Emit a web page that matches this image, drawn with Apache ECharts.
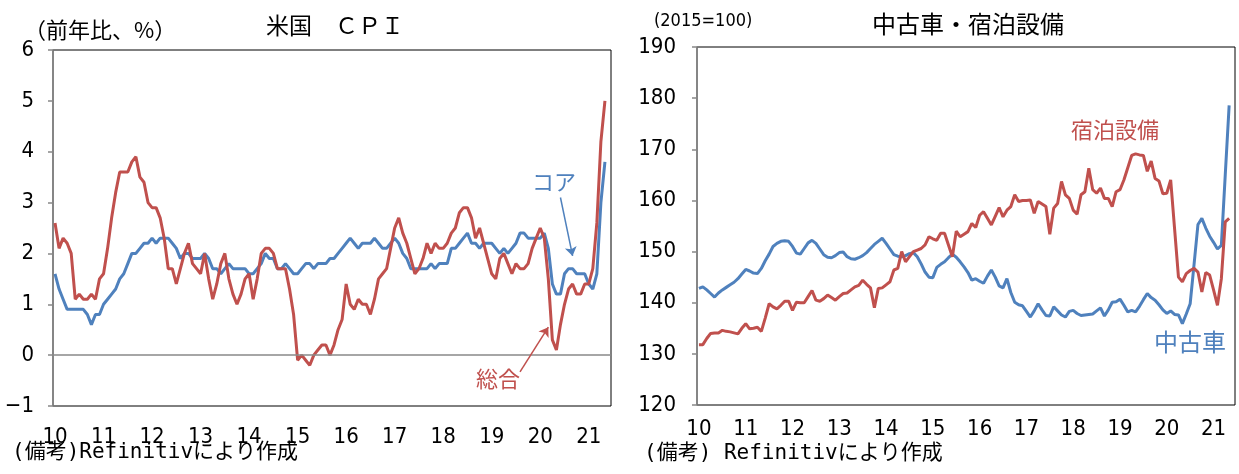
<!DOCTYPE html>
<html>
<head>
<meta charset="utf-8">
<script src="https://cdn.jsdelivr.net/npm/echarts@6/dist/echarts.min.js"></script>
<style>
  html, body { margin: 0; padding: 0; background: #fff; }
  #chart { width: 1239px; height: 474px; }
</style>
</head>
<body>
<div id="chart"></div>
<script>
// 月次カテゴリ（2010年1月〜2021年6月、最終月は空き）
const months = [];
for (let y = 2010; y <= 2021; y++) {
    for (let m = 1; m <= 12; m++) {
        if (y === 2021 && m > 6) break;
        months.push(y + '-' + String(m).padStart(2, '0'));
    }
}

// 米国CPI 総合（前年比、%）
const cpiAll = [
    2.6, 2.1, 2.3, 2.2, 2.0, 1.1, 1.2, 1.1, 1.1, 1.2, 1.1, 1.5,
    1.6, 2.1, 2.7, 3.2, 3.6, 3.6, 3.6, 3.8, 3.9, 3.5, 3.4, 3.0,
    2.9, 2.9, 2.7, 2.3, 1.7, 1.7, 1.4, 1.7, 2.0, 2.2, 1.8, 1.7,
    1.6, 2.0, 1.5, 1.1, 1.4, 1.8, 2.0, 1.5, 1.2, 1.0, 1.2, 1.5,
    1.6, 1.1, 1.5, 2.0, 2.1, 2.1, 2.0, 1.7, 1.7, 1.7, 1.3, 0.8,
    -0.1, 0.0, -0.1, -0.2, 0.0, 0.1, 0.2, 0.2, 0.0, 0.2, 0.5, 0.7,
    1.4, 1.0, 0.9, 1.1, 1.0, 1.0, 0.8, 1.1, 1.5, 1.6, 1.7, 2.1,
    2.5, 2.7, 2.4, 2.2, 1.9, 1.6, 1.7, 1.9, 2.2, 2.0, 2.2, 2.1,
    2.1, 2.2, 2.4, 2.5, 2.8, 2.9, 2.9, 2.7, 2.3, 2.5, 2.2, 1.9,
    1.6, 1.5, 1.9, 2.0, 1.8, 1.6, 1.8, 1.7, 1.7, 1.8, 2.1, 2.3,
    2.5, 2.3, 1.5, 0.3, 0.1, 0.6, 1.0, 1.3, 1.4, 1.2, 1.2, 1.4,
    1.4, 1.7, 2.6, 4.2, 5.0
];

// 米国CPI コア（前年比、%）
const cpiCore = [
    1.6, 1.3, 1.1, 0.9, 0.9, 0.9, 0.9, 0.9, 0.8, 0.6, 0.8, 0.8,
    1.0, 1.1, 1.2, 1.3, 1.5, 1.6, 1.8, 2.0, 2.0, 2.1, 2.2, 2.2,
    2.3, 2.2, 2.3, 2.3, 2.3, 2.2, 2.1, 1.9, 2.0, 2.0, 1.9, 1.9,
    1.9, 2.0, 1.9, 1.7, 1.7, 1.6, 1.7, 1.8, 1.7, 1.7, 1.7, 1.7,
    1.6, 1.6, 1.7, 1.8, 2.0, 1.9, 1.9, 1.7, 1.7, 1.8, 1.7, 1.6,
    1.6, 1.7, 1.8, 1.8, 1.7, 1.8, 1.8, 1.8, 1.9, 1.9, 2.0, 2.1,
    2.2, 2.3, 2.2, 2.1, 2.2, 2.2, 2.2, 2.3, 2.2, 2.1, 2.1, 2.2,
    2.3, 2.2, 2.0, 1.9, 1.7, 1.7, 1.7, 1.7, 1.7, 1.8, 1.7, 1.8,
    1.8, 1.8, 2.1, 2.1, 2.2, 2.3, 2.4, 2.2, 2.2, 2.1, 2.2, 2.2,
    2.2, 2.1, 2.0, 2.1, 2.0, 2.1, 2.2, 2.4, 2.4, 2.3, 2.3, 2.3,
    2.3, 2.4, 2.1, 1.4, 1.2, 1.2, 1.6, 1.7, 1.7, 1.6, 1.6, 1.6,
    1.4, 1.3, 1.6, 3.0, 3.8
];

// 中古車（2015=100）
const usedCars = [
    142.8, 143.1, 142.5, 141.8, 141.1, 141.9, 142.5, 143.0, 143.5, 144.0, 144.7, 145.6,
    146.5, 146.2, 145.8, 145.7, 146.7, 148.2, 149.5, 151.0, 151.6, 152.0, 152.1, 152.0,
    151.0, 149.7, 149.5, 150.6, 151.7, 152.2, 151.6, 150.5, 149.4, 148.9, 148.8, 149.2,
    149.8, 149.9, 149.0, 148.6, 148.5, 148.8, 149.2, 149.8, 150.6, 151.4, 152.0, 152.6,
    151.6, 150.5, 149.4, 149.1, 149.0, 149.2, 149.6, 149.8, 149.0, 147.6, 146.0, 145.0,
    144.9, 146.9, 147.5, 148.0, 148.8, 149.5, 148.9, 148.0, 147.0, 145.9, 144.4, 144.7,
    144.2, 143.8, 145.2, 146.4, 145.0, 143.3, 142.9, 144.7, 142.0, 140.1, 139.6, 139.4,
    138.3, 137.2, 138.4, 139.8, 138.6, 137.5, 137.4, 139.2, 138.4, 137.6, 137.2, 138.3,
    138.5, 137.9, 137.5, 137.6, 137.7, 137.8, 138.4, 139.0, 137.4, 138.6, 140.1, 140.2,
    140.7, 139.5, 138.2, 138.5, 138.2, 139.3, 140.6, 141.8, 141.0, 140.5, 139.6, 138.6,
    137.9, 138.4, 137.7, 137.6, 135.9, 137.8, 139.8, 147.5, 155.3, 156.5, 154.6, 153.0,
    151.8, 150.5, 151.2, 165.0, 178.6
];

// 宿泊設備（2015=100）
const lodging = [
    131.8, 131.8, 133.0, 134.0, 134.1, 134.1, 134.6, 134.4, 134.3, 134.1, 133.9, 135.0,
    135.9, 134.9, 135.0, 135.2, 134.4, 137.0, 139.8, 139.2, 138.8, 139.5, 140.3, 140.3,
    138.5, 140.1, 140.0, 140.0, 141.2, 142.4, 140.5, 140.3, 140.8, 141.5, 141.0, 140.5,
    141.2, 141.8, 141.9, 142.5, 143.1, 143.4, 144.4, 143.6, 142.9, 139.0, 142.8, 142.9,
    143.5, 144.1, 146.4, 146.7, 150.0, 148.0, 149.0, 150.0, 150.3, 150.6, 151.3, 152.9,
    152.5, 152.2, 153.6, 153.6, 151.3, 149.0, 154.0, 152.9, 153.4, 153.9, 155.5, 154.7,
    157.1, 157.8, 156.5, 155.2, 156.9, 158.6, 156.8, 158.1, 158.8, 161.1, 159.8, 160.0,
    160.0, 160.1, 157.5, 159.8, 159.3, 158.8, 153.4, 158.5, 159.4, 163.7, 161.1, 160.4,
    158.1, 157.3, 161.1, 161.7, 166.3, 162.1, 161.4, 162.4, 160.4, 160.4, 158.8, 161.7,
    162.1, 164.0, 166.4, 168.8, 169.1, 168.9, 168.8, 165.7, 167.7, 164.3, 163.8, 161.3,
    161.4, 164.0, 154.5, 145.0, 144.1, 145.7, 146.3, 146.7, 146.0, 142.1, 145.9, 145.4,
    142.5, 139.5, 144.7, 155.8, 156.5
];

// 軸目盛
const leftTicks = { min: -1, max: 6, interval: 1 };
const rightTicks = { min: 120, max: 190, interval: 10 };

const RED = '#C0504D';
const BLUE = '#4F81BD';
const NUM_FONT = "'Liberation Sans Narrow', 'DejaVu Sans Condensed', 'Liberation Sans', sans-serif";
const JP_FONT = "'Noto Sans CJK JP', sans-serif";
// 備考用：英字は等幅、和文は自動でCJKフォントへ
const NOTE_FONT = "'DejaVu Sans Mono', 'Noto Sans CJK JP', monospace";

const chart = echarts.init(document.getElementById('chart'));

function makeXAxis(gridIndex, margin) {
    return {
        type: 'category',
        gridIndex: gridIndex,
        data: months,
        boundaryGap: true,
        axisLine: { show: false },
        axisTick: { show: false },
        splitLine: { show: false },
        axisLabel: {
            interval: (idx) => idx % 12 === 0,
            formatter: (v) => v.slice(2, 4),
            fontFamily: NUM_FONT,
            fontSize: 22,
            color: '#000',
            margin: margin
        }
    };
}

function makeYAxis(gridIndex, ticks, margin) {
    return {
        type: 'value',
        gridIndex: gridIndex,
        min: ticks.min,
        max: ticks.max,
        interval: ticks.interval,
        splitLine: { show: false },
        axisLine: { show: true, lineStyle: { color: '#888', width: 1.5 } },
        axisTick: { show: true, length: 5, lineStyle: { color: '#888', width: 1.5 } },
        axisLabel: {
            fontFamily: NUM_FONT,
            fontSize: 22,
            color: '#000',
            margin: margin,
            formatter: (v) => String(v).replace('-', '\u2212')
        }
    };
}

function lineSeries(name, data, color, axisIndex, extra) {
    return Object.assign({
        name: name,
        type: 'line',
        xAxisIndex: axisIndex,
        yAxisIndex: axisIndex,
        data: data,
        symbol: 'none',
        lineStyle: { color: color, width: 3 },
        itemStyle: { color: color },
        animation: false,
        z: 3
    }, extra || {});
}

function arrow(from, to, color) {
    return {
        silent: true,
        symbol: ['none', 'arrow'],
        symbolSize: 9,
        label: { show: false },
        lineStyle: { color: color, width: 1.5, type: 'solid' },
        data: [[{ coord: from }, { coord: to }]]
    };
}

function text(str, left, top, size, color, font) {
    return {
        type: 'text',
        left: left,
        top: top,
        style: {
            text: str,
            fontSize: size,
            fill: color || '#000',
            fontFamily: font || JP_FONT
        }
    };
}

const option = {
    backgroundColor: '#fff',
    animation: false,
    grid: [
        { left: 53, top: 50, right: 628, bottom: 68, show: true, borderColor: '#000', borderWidth: 1 },
        { left: 697, top: 47, right: 4, bottom: 69, show: true, borderColor: '#000', borderWidth: 1 }
    ],
    xAxis: [makeXAxis(0, 20), makeXAxis(1, 13)],
    yAxis: [makeYAxis(0, leftTicks, 19), makeYAxis(1, rightTicks, 21)],
    series: [
        lineSeries('コア', cpiCore, BLUE, 0, {
            markLine: {
                silent: true,
                symbol: 'none',
                label: { show: false },
                lineStyle: { color: '#888', width: 1.5, type: 'solid' },
                data: [{ yAxis: 0 }]
            }
        }),
        lineSeries('総合', cpiAll, RED, 0, {
            markLine: arrow(['2019-08', -0.33], ['2020-03', 0.55], RED)
        }),
        lineSeries('中古車', usedCars, BLUE, 1),
        lineSeries('宿泊設備', lodging, RED, 1)
    ],
    graphic: [
        text('（前年比、%）', 24, 19, 22),
        text('米国　ＣＰＩ', 266, 14, 23),
        text('(2015=100)', 654, 12, 18, '#000', NUM_FONT),
        text('中古車・宿泊設備', 872, 12, 24),
        text('(備考)Refinitivにより作成', 12, 442, 21, '#000', NOTE_FONT),
        text('(備考) Refinitivにより作成', 644, 443, 21, '#000', NOTE_FONT),
        text('コア', 532, 171, 22, BLUE),
        text('総合', 476, 368, 22, RED),
        text('宿泊設備', 1071, 119, 22, RED),
        text('中古車', 1154, 330, 24, BLUE)
    ]
};

// コアの矢印
option.series.push({
    type: 'line',
    xAxisIndex: 0,
    yAxisIndex: 0,
    data: [],
    markLine: arrow(['2020-06', 3.1], ['2020-09', 1.95], BLUE)
});

chart.setOption(option);

window.addEventListener('resize', () => {
    chart.resize();
});
</script>
</body>
</html>
